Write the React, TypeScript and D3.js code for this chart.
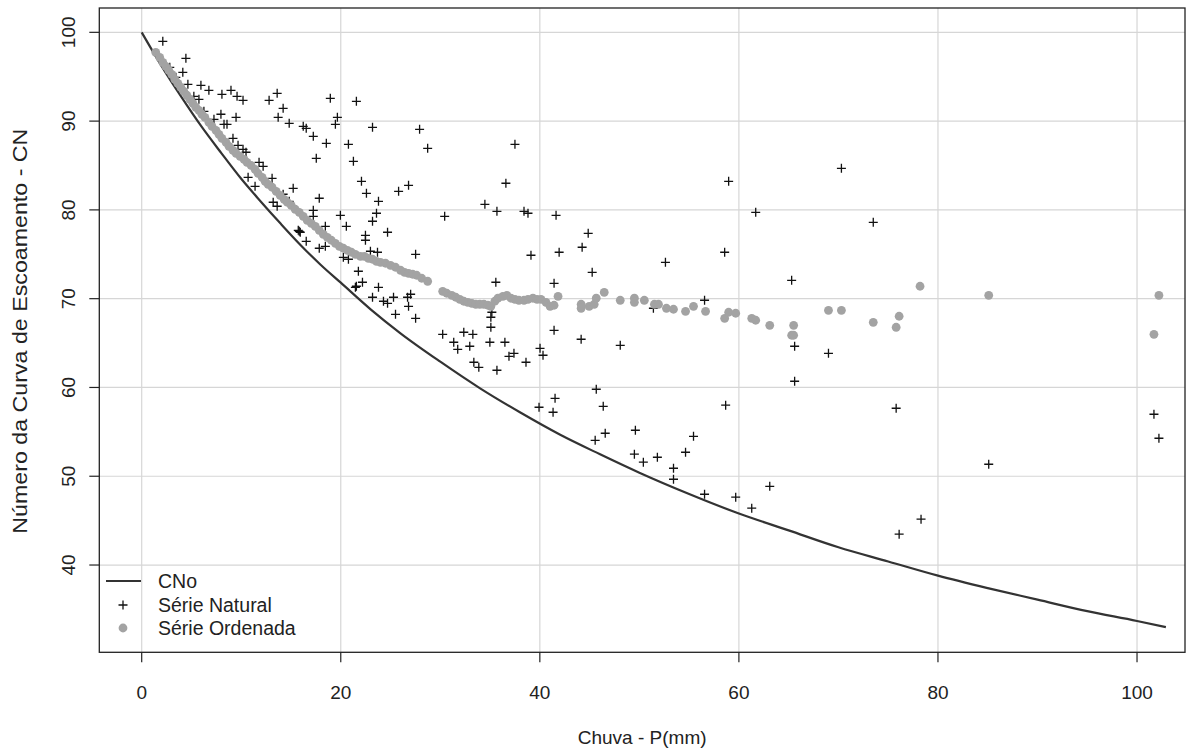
import React from "react";
import * as d3 from "d3";

// CNo curve
const cnoP = [0, 2, 4, 6, 8, 10, 12, 14, 16, 18, 20, 23, 26, 30, 34, 38, 42, 46, 50, 55, 60, 65, 70, 75, 80, 85, 90, 95, 100, 102.9];
const cnoCN = [100, 96.2, 92.7, 89.4, 86.4, 83.5, 80.9, 78.4, 76.0, 73.8, 71.8, 68.8, 66.1, 62.9, 59.9, 57.2, 54.7, 52.5, 50.4, 48.0, 45.8, 43.9, 42.0, 40.4, 38.8, 37.4, 36.1, 34.8, 33.7, 33.0];

// Série Natural
const natP = [
  2.12, 4.44, 4.13, 4.64, 5.95, 6.75, 8.06, 8.97, 9.58, 10.18, 12.8, 13.61, 14.21, 13.71, 14.82, 16.23, 16.53, 17.24, 18.55, 18.95,
  21.57, 19.66, 19.46, 23.19, 20.77, 27.92, 28.73, 17.54, 21.27, 22.08, 22.58, 25.81, 26.81, 23.79, 17.84, 17.24, 23.59, 23.19, 24.7, 18.45,
  20.56, 22.48, 22.48, 17.84, 18.45, 22.98, 23.69, 27.52, 21.77, 22.18, 21.47, 23.79, 23.19, 24.29, 24.7, 25.3, 25.5, 26.71, 27.02, 26.81,
  27.52, 30.44, 34.48, 35.69, 36.59, 37.5, 38.41, 38.81, 41.63, 39.11, 41.94, 35.58, 41.43, 30.24, 31.35, 31.75, 32.36, 33.27, 32.96, 34.98,
  36.49, 35.08, 35.08, 35.18, 33.37, 33.87, 35.69, 36.9, 37.4, 38.61, 40.32, 40.02, 41.43, 44.15, 41.53, 39.92, 41.33, 58.97, 70.3, 61.69,
  73.5, 44.86, 44.25, 45.26, 58.57, 52.62, 65.3, 56.55, 51.41, 48.08, 65.6, 69.0, 65.6, 45.67, 46.37, 58.67, 75.8, 45.56, 46.57, 49.6,
  49.5, 50.4, 51.81, 53.43, 53.43, 54.64, 55.44, 56.55, 59.68, 63.1, 61.29, 78.3, 76.1, 85.1, 101.7, 102.2, 7.96, 9.48, 8.27, 8.57,
  9.17, 9.68, 10.48, 11.79, 13.1, 11.39, 15.22, 10.69, 13.21, 13.61, 14.21, 14.82, 17.24, 15.83, 15.93, 15.73, 16.53, 19.96, 20.77, 20.26,
  21.57, 5.75, 6.25, 2.82, 3.43, 5.24, 7.26, 10.18, 12.2,
];
const natCN = [
  98.99, 97.07, 95.5, 94.14, 94.03, 93.47, 93.02, 93.47, 92.79, 92.34, 92.34, 93.13, 91.44, 90.43, 89.75, 89.41, 89.19, 88.29, 87.5, 92.57,
  92.23, 90.43, 89.64, 89.3, 87.39, 89.08, 86.94, 85.81, 85.47, 83.22, 81.87, 82.09, 82.77, 80.97, 81.31, 79.95, 79.62, 78.72, 77.48, 78.15,
  78.15, 77.14, 76.58, 75.68, 75.9, 75.34, 75.23, 75.0, 73.09, 71.85, 71.28, 71.28, 70.16, 69.71, 69.48, 70.16, 68.24, 70.16, 70.5, 69.14,
  67.79, 79.28, 80.63, 79.84, 83.0, 87.39, 79.84, 79.62, 79.39, 74.89, 75.23, 71.85, 71.73, 65.99, 65.09, 64.3, 66.22, 65.99, 64.64, 65.09,
  65.09, 66.78, 67.91, 68.47, 62.84, 62.27, 61.94, 63.51, 63.85, 62.84, 63.63, 64.41, 66.44, 65.43, 58.78, 57.77, 57.21, 83.22, 84.68, 79.73,
  78.6, 77.36, 75.79, 72.97, 75.23, 74.1, 72.07, 69.82, 68.92, 64.75, 64.64, 63.85, 60.7, 59.8, 57.88, 58.0, 57.66, 54.05, 54.84, 55.18,
  52.48, 51.58, 52.14, 50.9, 49.66, 52.7, 54.5, 47.97, 47.64, 48.87, 46.4, 45.16, 43.47, 51.35, 56.98, 54.28, 90.77, 90.43, 89.64, 89.64,
  88.06, 87.27, 86.49, 85.36, 83.56, 82.66, 82.43, 83.67, 80.86, 80.41, 81.76, 80.97, 79.28, 77.59, 77.48, 77.7, 76.46, 79.39, 74.44, 74.66,
  71.4, 92.45, 91.1, 96.06, 94.93, 92.79, 90.2, 86.82, 84.91,
];

// Série Ordenada
const ordP = [
  1.41, 1.81, 2.12, 2.42, 2.72, 3.02, 3.33, 3.63, 3.93, 4.23, 4.54, 4.84, 5.14, 5.44, 5.75, 6.05, 6.35, 6.75, 7.06, 7.46,
  7.76, 8.06, 8.47, 8.77, 9.17, 9.48, 9.88, 10.28, 10.58, 10.99, 11.39, 11.69, 12.1, 12.4, 12.7, 13.1, 13.51, 13.91, 14.31, 14.62,
  15.02, 15.42, 15.83, 16.23, 16.63, 17.04, 17.44, 17.84, 18.25, 18.65, 19.05, 19.46, 19.86, 20.26, 20.67, 21.07, 21.47, 21.98, 22.38, 22.78,
  23.19, 23.59, 23.99, 24.5, 25.0, 25.5, 26.01, 26.41, 26.81, 27.22, 27.62, 28.13, 28.73, 30.24, 30.65, 31.15, 31.55, 31.96, 32.36, 32.76,
  33.17, 33.57, 33.97, 34.38, 34.78, 35.08, 35.48, 35.79, 36.29, 36.69, 37.1, 37.5, 37.9, 38.41, 38.81, 39.31, 39.72, 40.12, 40.62, 41.03,
  41.43, 41.83, 44.15, 44.15, 44.96, 45.46, 45.67, 46.47, 48.08, 49.5, 49.5, 50.5, 51.51, 51.92, 52.72, 53.43, 54.64, 55.44, 56.65, 58.57,
  58.97, 59.68, 61.29, 61.69, 63.1, 65.3, 65.5, 65.5, 69.0, 70.3, 73.5, 75.8, 76.1, 78.2, 85.1, 101.7, 102.2,
];
const ordCN = [
  97.75, 97.18, 96.62, 96.17, 95.72, 95.27, 94.71, 94.26, 93.81, 93.36, 92.91, 92.45, 92.0, 91.55, 91.22, 90.77, 90.43, 89.86, 89.41, 88.96,
  88.51, 88.06, 87.61, 87.16, 86.71, 86.37, 86.04, 85.7, 85.36, 85.02, 84.57, 84.12, 83.67, 83.22, 82.88, 82.55, 82.09, 81.64, 81.19, 80.86,
  80.52, 80.07, 79.73, 79.28, 78.83, 78.49, 78.15, 77.7, 77.25, 76.91, 76.58, 76.24, 75.9, 75.68, 75.45, 75.23, 75.0, 74.77, 74.77, 74.55,
  74.44, 74.21, 74.1, 73.99, 73.76, 73.54, 73.2, 72.97, 72.86, 72.75, 72.64, 72.3, 71.96, 70.83, 70.61, 70.38, 70.16, 69.93, 69.71, 69.59,
  69.48, 69.37, 69.37, 69.37, 69.26, 69.14, 69.71, 70.05, 70.27, 70.38, 70.05, 69.93, 69.82, 69.82, 69.93, 70.05, 69.93, 69.93, 69.59, 69.14,
  69.26, 70.27, 69.37, 68.92, 69.14, 69.37, 70.05, 70.72, 69.82, 70.05, 69.59, 69.82, 69.37, 69.37, 68.92, 68.81, 68.58, 69.14, 68.58, 67.79,
  68.47, 68.36, 67.79, 67.57, 67.0, 65.88, 65.88, 67.0, 68.69, 68.69, 67.34, 66.78, 68.02, 71.4, 70.38, 65.99, 70.38,
];

const xTicks = [0, 20, 40, 60, 80, 100];
const yTicks = [40, 50, 60, 70, 80, 90, 100];
const legendLabels = ["CNo", "Série Natural", "Série Ordenada"];
const xTitle = "Chuva - P(mm)";
const yTitle = "Número da Curva de Escoamento - CN";

const W = 1199;
const H = 753;
const L = 99.3, R = 1185, T = 8, B = 652.3;
const FONT = "'Liberation Sans', Arial, sans-serif";

export default function App() {
  const x = d3.scaleLinear().domain([-4.26, 104.82]).range([L, R]);
  const y = d3.scaleLinear().domain([30.17, 102.74]).range([B, T]);
  const line = d3
    .line<number>()
    .x((_, i) => x(cnoP[i]))
    .y((d) => y(d))
    .curve(d3.curveMonotoneX);
  const cross = (cx: number, cy: number, k: string) => (
    <path key={k} d={`M${cx - 4.5},${cy}H${cx + 4.5}M${cx},${cy - 4.5}V${cy + 4.5}`} stroke="#111" strokeWidth={1.3} fill="none" />
  );
  return (
    <svg width={W} height={H} style={{ position: "absolute", left: 0, top: 0, background: "#fff" }} fontFamily={FONT}>
      <rect x={0} y={0} width={W} height={H} fill="#fff" />
      {xTicks.map((t) => (
        <line key={"gx" + t} x1={x(t)} x2={x(t)} y1={T} y2={B} stroke="#d6d6d6" strokeWidth={1.2} />
      ))}
      {yTicks.map((t) => (
        <line key={"gy" + t} x1={L} x2={R} y1={y(t)} y2={y(t)} stroke="#d6d6d6" strokeWidth={1.2} />
      ))}
      <path d={line(cnoCN) || ""} fill="none" stroke="#333" strokeWidth={2.2} />
      {natP.map((p, i) => cross(x(p), y(natCN[i]), "n" + i))}
      {ordP.map((p, i) => (
        <circle key={"o" + i} cx={x(p)} cy={y(ordCN[i])} r={4.4} fill="#a3a3a3" />
      ))}
      <rect x={L} y={T} width={R - L} height={B - T} fill="none" stroke="#222" strokeWidth={1.3} />
      {xTicks.map((t) => (
        <g key={"tx" + t}>
          <line x1={x(t)} x2={x(t)} y1={B} y2={B + 10} stroke="#222" strokeWidth={1.2} />
          <text x={x(t)} y={692} textAnchor="middle" dominantBaseline="central" fontSize={19} fill="#222">
            {t}
          </text>
        </g>
      ))}
      {yTicks.map((t) => (
        <g key={"ty" + t}>
          <line x1={L} x2={L - 10} y1={y(t)} y2={y(t)} stroke="#222" strokeWidth={1.2} />
          <text
            transform={`translate(68,${y(t)}) rotate(-90)`}
            textAnchor="middle"
            dominantBaseline="central"
            fontSize={19}
            fill="#222"
          >
            {t}
          </text>
        </g>
      ))}
      <text x={(L + R) / 2} y={737} textAnchor="middle" dominantBaseline="central" fontSize={19} fill="#222">
        {xTitle}
      </text>
      <text
        transform={`translate(20,${(T + B) / 2 + 1}) rotate(-90)`}
        textAnchor="middle"
        dominantBaseline="central"
        fontSize={20}
        textLength={405}
        lengthAdjust="spacingAndGlyphs"
        fill="#222"
      >
        {yTitle}
      </text>
      <line x1={106} x2={141} y1={581} y2={581} stroke="#333" strokeWidth={2.2} />
      {cross(123, 605, "lg")}
      <circle cx={123} cy={628} r={4.4} fill="#a3a3a3" />
      {legendLabels.map((l, i) => (
        <text key={l} x={158} y={581 + i * 23.5} dominantBaseline="central" fontSize={19.5} fill="#222">
          {l}
        </text>
      ))}
    </svg>
  );
}
